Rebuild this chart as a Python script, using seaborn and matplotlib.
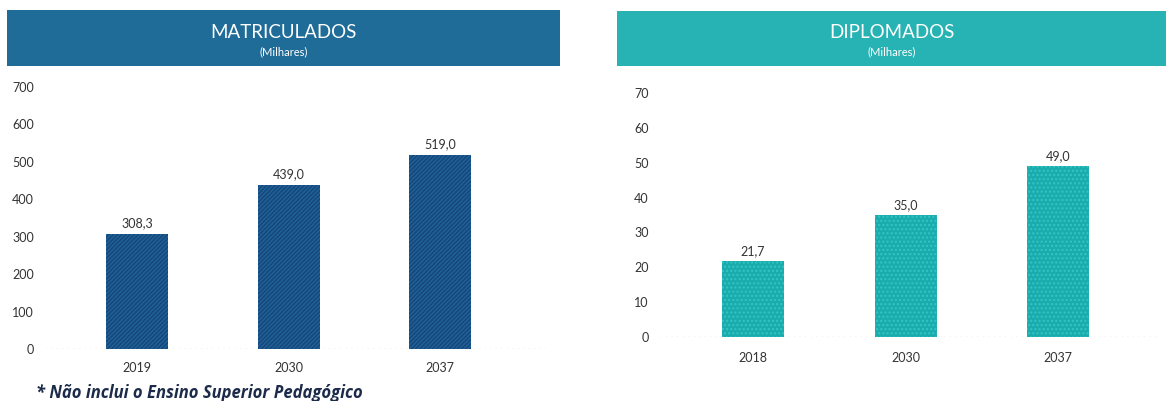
import matplotlib
matplotlib.use("Agg")
import matplotlib.pyplot as plt
import seaborn as sns
import pandas as pd

# ---- data ----
mat_years = ["2019", "2030", "2037"]
mat_values = [308.3, 439.0, 519.0]
dip_years = ["2018", "2030", "2037"]
dip_values = [21.7, 35.0, 49.0]
mat_ticks = [0, 100, 200, 300, 400, 500, 600, 700]
dip_ticks = [0, 10, 20, 30, 40, 50, 60, 70]
mat_title = "MATRICULADOS"
dip_title = "DIPLOMADOS"
subtitle = "(Milhares)"
footnote = "* Não inclui o Ensino Superior Pedagógico"

sns.set_theme(style="white")
plt.rcParams["font.family"] = ["Lato", "DejaVu Sans"]
plt.rcParams["hatch.linewidth"] = 1.0

W, H = 1166, 401
fig = plt.figure(figsize=(W / 100, H / 100), dpi=100)
fig.patch.set_facecolor("white")


def fx(px):
    return px / W


def fy(py):
    return 1 - py / H


def header(x0, x1, y0, y1, color, title):
    hax = fig.add_axes([fx(x0), fy(y1), fx(x1 - x0), (y1 - y0) / H])
    hax.set_facecolor(color)
    hax.set_xticks([])
    hax.set_yticks([])
    for s in hax.spines.values():
        s.set_visible(False)
    spaced = " ".join(list(title)).replace("   ", "  ")
    hax.text(0.5, 0.60, title, ha="center", va="center", color="white",
             fontsize=13.5, transform=hax.transAxes)
    hax.text(0.5, 0.25, subtitle, ha="center", va="center", color="white",
             fontsize=8, transform=hax.transAxes)


def panel(x0, x1, y_base, y_top, cats, vals, ticks, color, hatchcol, hatch,
          c0, spacing, fmt, xpad):
    ax = fig.add_axes([fx(x0), fy(y_base), fx(x1 - x0), (y_base - y_top) / H])
    df = pd.DataFrame({"cat": cats, "val": vals})
    sns.barplot(data=df, x="cat", y="val", color=color, width=62 / spacing,
                saturation=1, ax=ax)
    for p in ax.patches:
        p.set_hatch(hatch)
        p.set_edgecolor(hatchcol)
        p.set_linewidth(0)
    left = -(c0 - x0) / spacing
    ax.set_xlim(left, left + (x1 - x0) / spacing)
    ax.set_ylim(ticks[0], ticks[-1])
    ax.set_yticks(ticks)
    ax.set_yticklabels([str(t) for t in ticks], fontsize=9, color="#333333")
    ax.tick_params(axis="x", labelsize=9, colors="#333333", length=0, pad=xpad)
    ax.tick_params(axis="y", length=0, pad=8)
    ax.set_xlabel("")
    ax.set_ylabel("")
    for s in ax.spines.values():
        s.set_visible(False)
    ax.axhline(0, color="#cccccc", lw=1, ls=(0, (1, 3)), zorder=0)
    labels = [fmt(v) for v in vals]
    ax.bar_label(ax.containers[0], labels=labels, padding=3, fontsize=9,
                 color="#333333")
    ax.set_facecolor("none")
    return ax


header(7, 560, 10, 66, "#1f6c98", mat_title)
header(617, 1166, 11, 66, "#27b2b3", dip_title)

panel(45, 550, 349, 87, mat_years, mat_values, mat_ticks, "#15487a",
      "#21619a", "////////", 137, 151.5,
      lambda v: f"{v:.1f}".replace(".", ","), 9)
panel(660, 1160, 337, 93, dip_years, dip_values, dip_ticks, "#1aabac",
      "#33c4c4", "....", 753, 152.5,
      lambda v: f"{v:.1f}".replace(".", ","), 11)

fig.text(fx(36), fy(393), footnote, fontsize=12, fontweight="bold",
         fontstyle="italic", color="#1c2b4a", ha="left", va="center",
         family=["Open Sans", "DejaVu Sans"])

fig.savefig("out.png", dpi=100)
